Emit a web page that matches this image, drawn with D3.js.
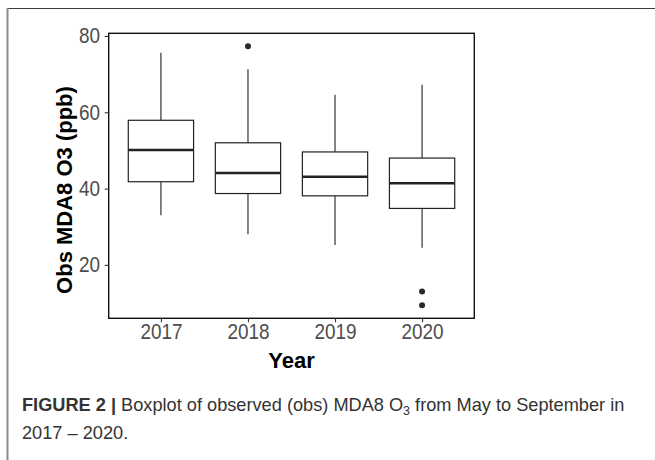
<!DOCTYPE html>
<html>
<head>
<meta charset="utf-8">
<script src="https://cdn.jsdelivr.net/npm/d3@7"></script>
<style>
  html, body { margin: 0; padding: 0; background: #fff; }
  svg { display: block; }
</style>
</head>
<body>
<svg id="chart" width="655" height="460"></svg>
<script>
// Five-number summaries of observed MDA8 O3 (ppb), May–September
const years = ["2017", "2018", "2019", "2020"];
const whiskerLow = [33.0, 28.0, 25.2, 24.5];
const q1 = [41.8, 38.7, 38.1, 34.8];
const median = [50.1, 44.1, 43.1, 41.4];
const q3 = [57.9, 52.0, 49.6, 48.0];
const whiskerHigh = [75.6, 71.3, 64.6, 67.2];
const outliers = [[], [77.3], [], [13.0, 9.4]];
const yTicks = [20, 40, 60, 80];

const FONT = "'Liberation Sans', Arial, Helvetica, sans-serif";
const NARROW = 0.88; // horizontal squeeze for the condensed label face

const svg = d3.select("#chart");

// Outer figure frame (top and left rules)
svg.append("line").attr("x1", 7).attr("x2", 655).attr("y1", 8.5).attr("y2", 8.5)
  .attr("stroke", "#3c3c3c").attr("stroke-width", 1.2);
svg.append("line").attr("x1", 7.5).attr("x2", 7.5).attr("y1", 8).attr("y2", 460)
  .attr("stroke", "#8a8a8a").attr("stroke-width", 2);

const panel = { left: 108.7, right: 474.3, top: 33.3, bottom: 318.3 };

// ggplot-style 5% expansion of the data range
const allVals = whiskerLow.concat(whiskerHigh, outliers.flat());
const lo = d3.min(allVals), hi = d3.max(allVals), pad = (hi - lo) * 0.05;

const y = d3.scaleLinear().domain([lo - pad, hi + pad]).range([panel.bottom, panel.top]);
const x = d3.scalePoint().domain(years).range([panel.left, panel.right]).padding(0.6);
const boxW = x.step() * 0.75;

const g = svg.append("g");

// Whiskers
g.selectAll("line.whisk-up").data(years).join("line")
  .attr("x1", d => x(d)).attr("x2", d => x(d))
  .attr("y1", (d, i) => y(q3[i])).attr("y2", (d, i) => y(whiskerHigh[i]))
  .attr("stroke", "#222").attr("stroke-width", 1.1);
g.selectAll("line.whisk-lo").data(years).join("line")
  .attr("x1", d => x(d)).attr("x2", d => x(d))
  .attr("y1", (d, i) => y(q1[i])).attr("y2", (d, i) => y(whiskerLow[i]))
  .attr("stroke", "#222").attr("stroke-width", 1.1);

// Boxes
g.selectAll("rect.box").data(years).join("rect")
  .attr("x", d => x(d) - boxW / 2).attr("width", boxW)
  .attr("y", (d, i) => y(q3[i])).attr("height", (d, i) => y(q1[i]) - y(q3[i]))
  .attr("fill", "#fff").attr("stroke", "#222").attr("stroke-width", 1.2);

// Medians
g.selectAll("line.med").data(years).join("line")
  .attr("x1", d => x(d) - boxW / 2).attr("x2", d => x(d) + boxW / 2)
  .attr("y1", (d, i) => y(median[i])).attr("y2", (d, i) => y(median[i]))
  .attr("stroke", "#222").attr("stroke-width", 2.6);

// Outliers
const pts = [];
years.forEach((yr, i) => outliers[i].forEach(v => pts.push({ yr, v })));
g.selectAll("circle.out").data(pts).join("circle")
  .attr("cx", d => x(d.yr)).attr("cy", d => y(d.v)).attr("r", 3)
  .attr("fill", "#2a2a2a");

// Panel border
svg.append("rect")
  .attr("x", panel.left).attr("y", panel.top)
  .attr("width", panel.right - panel.left).attr("height", panel.bottom - panel.top)
  .attr("fill", "none").attr("stroke", "#111").attr("stroke-width", 1.4);

// Axes
const yAxis = svg.append("g").attr("transform", `translate(${panel.left},0)`)
  .call(d3.axisLeft(y).tickValues(yTicks).tickSize(4).tickPadding(0));
const xAxis = svg.append("g").attr("transform", `translate(0,${panel.bottom})`)
  .call(d3.axisBottom(x).tickSize(4).tickPadding(1));
[yAxis, xAxis].forEach(ax => {
  ax.select(".domain").remove();
  ax.selectAll(".tick line").attr("stroke", "#333").attr("stroke-width", 1.1);
  ax.selectAll(".tick text").attr("fill", "#4d4d4d")
    .style("font-family", FONT).style("font-size", "21.5px");
});
// condensed look: squeeze labels horizontally about their anchor
yAxis.selectAll(".tick text")
  .attr("x", -8.7 / NARROW).attr("transform", `scale(${NARROW},1)`);
xAxis.selectAll(".tick text").attr("transform", `scale(${NARROW},1)`);

// Axis titles
svg.append("text").attr("x", (panel.left + panel.right) / 2).attr("y", 368)
  .attr("text-anchor", "middle")
  .style("font-family", FONT)
  .style("font-size", "22px").style("font-weight", "bold").attr("fill", "#000")
  .text("Year");
svg.append("text")
  .attr("transform", "translate(72,190) rotate(-90)")
  .attr("text-anchor", "middle")
  .style("font-family", FONT)
  .style("font-size", "22px").style("font-weight", "bold").attr("fill", "#000")
  .text("Obs MDA8 O3 (ppb)");

// Caption
const cap = svg.append("text").attr("x", 22).attr("y", 411)
  .style("font-family", FONT)
  .style("font-size", "18.2px").attr("fill", "#333");
cap.append("tspan").style("font-weight", "bold").text("FIGURE 2 | ");
cap.append("tspan").text("Boxplot of observed (obs) MDA8 O");
cap.append("tspan").attr("dy", 4).style("font-size", "12.5px").text("3");
cap.append("tspan").attr("dy", -4).text(" from May to September in");
svg.append("text").attr("x", 22).attr("y", 439)
  .style("font-family", FONT)
  .style("font-size", "18.2px").attr("fill", "#333")
  .text("2017 – 2020.");
</script>
</body>
</html>
